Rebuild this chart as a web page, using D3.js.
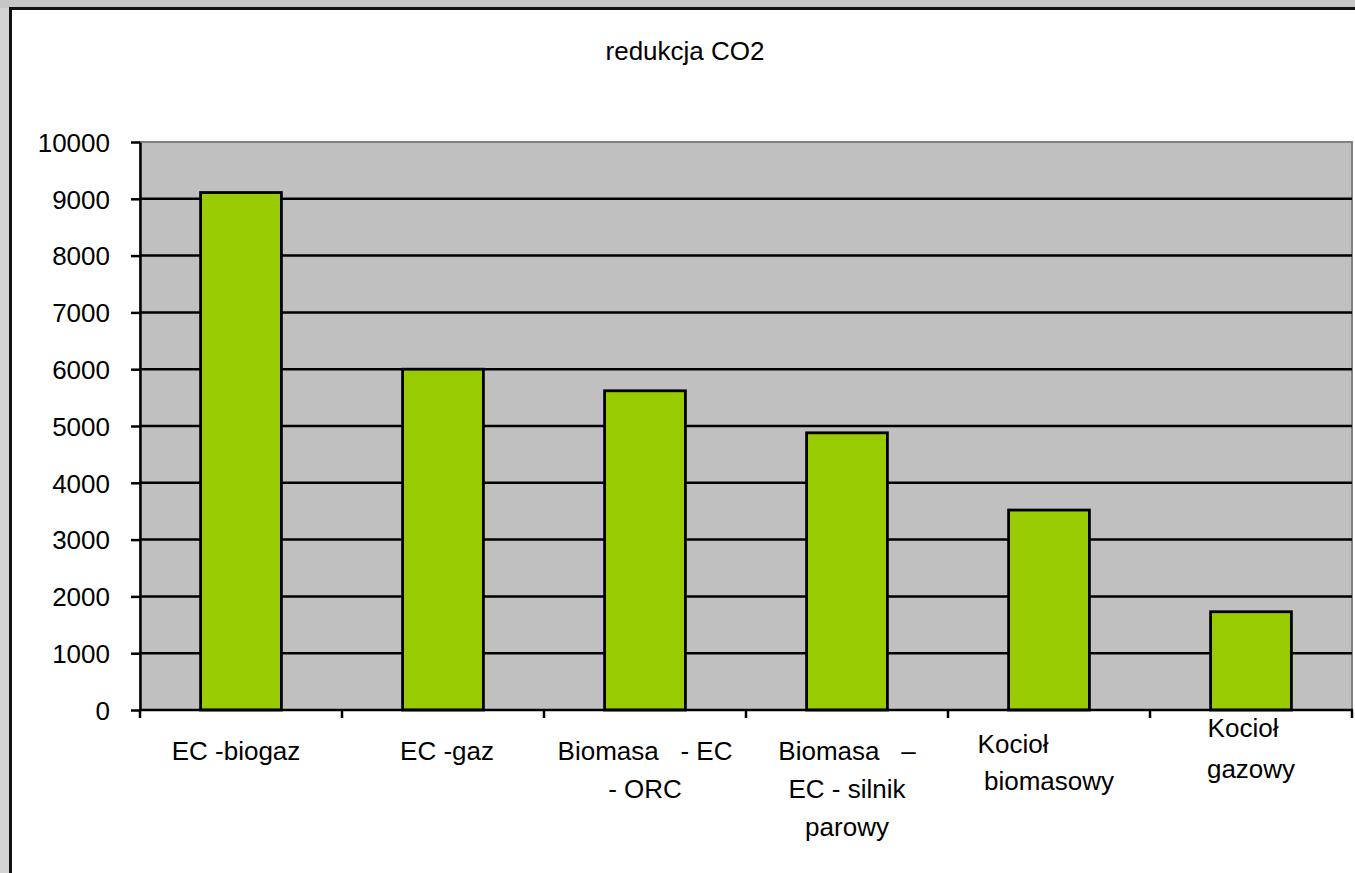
<!DOCTYPE html>
<html>
<head>
<meta charset="utf-8">
<script src="https://cdn.jsdelivr.net/npm/d3@7"></script>
<style>
  html, body { margin: 0; padding: 0; background: #c6c6c6; }
  svg { display: block; }
  text { font-family: "Liberation Sans", Arial, sans-serif; fill: #000; }
</style>
</head>
<body>
<svg id="chart" width="1355" height="873"></svg>
<script>
// Chart data
const title = "redukcja CO2";
const categories = [
  "EC -biogaz",
  "EC -gaz",
  "Biomasa   - EC\n- ORC",
  "Biomasa   –\nEC - silnik\nparowy",
  "Kocioł\nbiomasowy",
  "Kocioł\ngazowy"
];
const values = [9110, 6000, 5620, 4880, 3520, 1730];
const yTicks = [0, 1000, 2000, 3000, 4000, 5000, 6000, 7000, 8000, 9000, 10000];

// Layout
const W = 1355, H = 873;
const plot = { left: 140, right: 1352, top: 142, bottom: 710 };
const fontSize = 26;
// wrapped category labels: first-line baseline below the axis, line gap, first-line shift
const labelWrap = [
  { base: 50, gap: 38, dx: -5 },
  { base: 50, gap: 38, dx: 4 },
  { base: 50, gap: 38, dx: 0 },
  { base: 50, gap: 38, dx: 0 },
  { base: 43, gap: 37, dx: -36 },
  { base: 27, gap: 41, dx: -8 }
];

const svg = d3.select("#chart");

// outer frame: light side strip and the white chart area with its dark border
svg.append("rect").attr("x", 0).attr("y", 8).attr("width", 10).attr("height", H)
  .attr("fill", "#d3d3d3");
svg.append("rect").attr("x", 10.5).attr("y", 8.5).attr("width", W + 20).attr("height", H + 20)
  .attr("fill", "#fff").attr("stroke", "#111").attr("stroke-width", 3);

svg.append("text")
  .attr("x", 685).attr("y", 60)
  .attr("text-anchor", "middle")
  .attr("font-size", fontSize)
  .text(title);

const x = d3.scaleBand()
  .domain(d3.range(categories.length))
  .range([plot.left, plot.right])
  .paddingInner(0.6)
  .paddingOuter(0.3);

const y = d3.scaleLinear()
  .domain([0, 10000])
  .range([plot.bottom, plot.top]);

// plot area
svg.append("rect")
  .attr("x", plot.left).attr("y", plot.top)
  .attr("width", plot.right - plot.left).attr("height", plot.bottom - plot.top)
  .attr("fill", "#c0c0c0").attr("stroke", "#808080").attr("stroke-width", 2);

// horizontal gridlines
svg.append("g")
  .selectAll("line")
  .data(yTicks.filter(v => v > 0 && v < 10000))
  .join("line")
  .attr("x1", plot.left).attr("x2", plot.right)
  .attr("y1", d => y(d)).attr("y2", d => y(d))
  .attr("stroke", "#000").attr("stroke-width", 2.5);

// bars
svg.append("g")
  .selectAll("rect")
  .data(values)
  .join("rect")
  .attr("x", (d, i) => x(i))
  .attr("y", d => y(d))
  .attr("width", x.bandwidth())
  .attr("height", d => y(0) - y(d))
  .attr("fill", "#99cc00")
  .attr("stroke", "#000")
  .attr("stroke-width", 2.8);

// y axis
const yAxis = svg.append("g")
  .attr("transform", `translate(${plot.left},0)`)
  .call(d3.axisLeft(y).tickValues(yTicks).tickFormat(d3.format("d")).tickSizeInner(9).tickSizeOuter(0).tickPadding(21));
yAxis.select(".domain").attr("stroke", "#000").attr("stroke-width", 2.5);
yAxis.selectAll(".tick line").attr("stroke", "#000").attr("stroke-width", 2.5);
yAxis.selectAll(".tick text").attr("font-size", fontSize).attr("font-family", null).attr("dy", "0.36em");

// x axis: line plus ticks at band boundaries
const xg = svg.append("g");
xg.append("line")
  .attr("x1", plot.left - 1).attr("x2", plot.right + 1)
  .attr("y1", plot.bottom).attr("y2", plot.bottom)
  .attr("stroke", "#000").attr("stroke-width", 2.5);
xg.selectAll("line.tick")
  .data(d3.range(categories.length + 1))
  .join("line")
  .attr("class", "tick")
  .attr("x1", i => plot.left + i * x.step())
  .attr("x2", i => plot.left + i * x.step())
  .attr("y1", plot.bottom).attr("y2", plot.bottom + 8)
  .attr("stroke", "#000").attr("stroke-width", 2.5);

// category labels, wrapped onto several lines
const lbl = xg.selectAll("text")
  .data(categories)
  .join("text")
  .attr("text-anchor", "middle")
  .attr("font-size", fontSize)
  .style("white-space", "pre")
  .attr("transform", (d, i) => `translate(${x(i) + x.bandwidth() / 2},${plot.bottom + labelWrap[i].base})`);
lbl.each(function(d, i) {
  const lines = d.split("\n");
  d3.select(this).selectAll("tspan")
    .data(lines)
    .join("tspan")
    .attr("x", (t, j) => j === 0 ? labelWrap[i].dx : 0)
    .attr("y", (t, j) => j * labelWrap[i].gap)
    .text(t => t);
});
</script>
</body>
</html>
